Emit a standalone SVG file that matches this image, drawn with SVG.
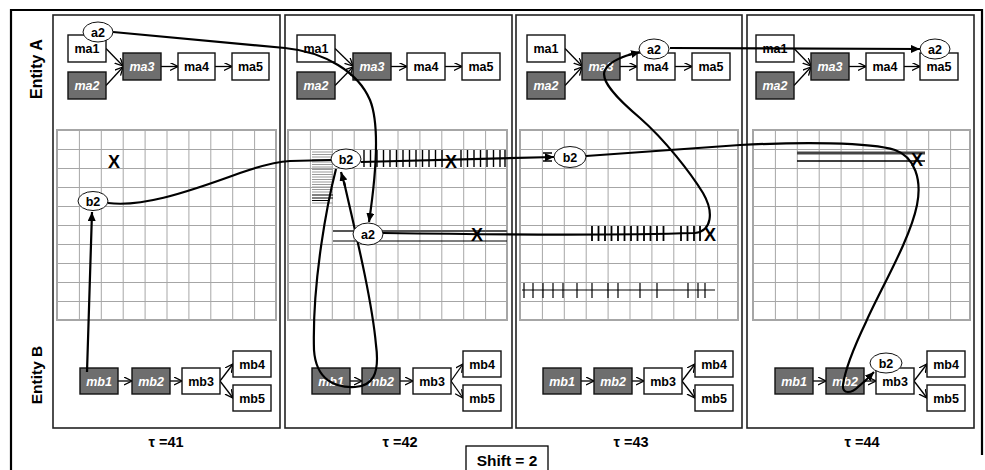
<svg xmlns="http://www.w3.org/2000/svg" width="985" height="470" viewBox="0 0 985 470">
<style>
text{font-family:"Liberation Sans",Arial,sans-serif;font-weight:bold}
.panel{fill:#fff;stroke:#222;stroke-width:1.6}
.nw{fill:#fff;stroke:#111;stroke-width:1.4}
.ng{fill:#6e6e6e;stroke:#111;stroke-width:1.4}
.tw{font-size:12.5px;fill:#000;text-anchor:middle}
.tg{font-size:12.5px;fill:#fff;font-style:italic;text-anchor:middle}
.ell{fill:#fff;stroke:#111;stroke-width:1}
.te{font-size:12.5px;fill:#000;text-anchor:middle}
.na{fill:none;stroke:#000;stroke-width:1.3;marker-end:url(#chev)}
.con{fill:none;stroke:#000;stroke-width:2.2}
.conA{fill:none;stroke:#000;stroke-width:2.2;marker-end:url(#tri)}
.x{font-size:18px;fill:#000;text-anchor:middle}
.tau{font-size:14.5px;fill:#000;text-anchor:middle}
.tick{stroke:#000;stroke-width:1.4}
</style>
<defs>
<marker id="chev" markerUnits="userSpaceOnUse" markerWidth="10" markerHeight="10" refX="8" refY="4" orient="auto"><path d="M0,0 L8,4 L0,8" fill="none" stroke="#000" stroke-width="1.3"/></marker>
<marker id="tri" markerUnits="userSpaceOnUse" markerWidth="10" markerHeight="10" refX="9" refY="4" orient="auto"><path d="M0,0 L9,4 L0,8 z" fill="#000"/></marker>
<pattern id="grid" patternUnits="userSpaceOnUse" width="21.9" height="19"><path d="M21.9,0 L0,0 L0,19" fill="none" stroke="#a6a6a6" stroke-width="2"/></pattern>
</defs>
<rect width="985" height="470" fill="#fff"/>
<!-- outer frame -->
<path d="M11,470 L11,10 L982,10 L982,455" fill="none" stroke="#000" stroke-width="2.2"/>
<text transform="translate(38,69) rotate(-90)" font-size="16" text-anchor="middle" dominant-baseline="middle">Entity A</text>
<text transform="translate(38,375) rotate(-90)" font-size="15.5" text-anchor="middle" dominant-baseline="middle">Entity B</text>

<!-- panels -->
<g id="panels">
<rect class="panel" x="53" y="15" width="227" height="413"/>
<rect class="panel" x="285" y="15" width="227" height="413"/>
<rect class="panel" x="516" y="15" width="226" height="413"/>
<rect class="panel" x="747" y="15" width="227" height="413"/>
</g>
<!-- grids -->
<g id="grids">
<g transform="translate(57,130)"><rect width="219" height="190" fill="url(#grid)" stroke="#a6a6a6" stroke-width="2"/></g>
<g transform="translate(288,130)"><rect width="219" height="190" fill="url(#grid)" stroke="#a6a6a6" stroke-width="2"/></g>
<g transform="translate(520,130)"><rect width="218" height="190" fill="url(#grid)" stroke="#a6a6a6" stroke-width="2"/></g>
<g transform="translate(753,130)"><rect width="217" height="190" fill="url(#grid)" stroke="#a6a6a6" stroke-width="2"/></g>
</g>

<!-- hatch marks -->
<g id="hatches">
<path d="M312,152H333M312,154.5H333M312,157H333M312,159.5H333M312,162H333M312,164.5H333M312,167H333M312,169.5H333M312,172H333M312,174.5H333M312,177H333M312,179.5H333M312,182H333M312,184.5H333M312,187H333M312,189.5H333M312,192H333M312,203H333" stroke="#999" stroke-width="1"/>
<path d="M312,195H333M312,198H333M312,200.5H330" stroke="#000" stroke-width="1.2"/>
<path class="tick" d="M364,150V167M370.5,150V167M377,150V167M383.5,150V167M390,150V167M396.5,150V167M403,150V167M409.5,150V167M416,150V167M422.5,150V167M429,150V167M435.5,150V167M442,150V167M461,150V167M467.5,150V167M474,150V167M480.5,150V167M487,150V167M493.5,150V167M500,150V167M505,150V167"/>
<path d="M333,231H507" stroke="#555" stroke-width="2"/>
<path d="M333,241H507" stroke="#000" stroke-width="1.2"/>
<path d="M592,226V241M598.5,226V241M605,226V241M611.5,226V241M618,226V241M624.5,226V241M631,226V241M637.5,226V241M644,226V241M650.5,226V241M657,226V241M663.5,226V241M681,226V241M687.5,226V241M694,226V241M700,226V241" stroke="#000" stroke-width="1.8"/>
<path d="M522,290H715" stroke="#000" stroke-width="1"/>
<path d="M524,283V298M533,283V298M543,283V298M553,283V298M563,283V298M577,283V298M592,283V298M608,283V298M618,283V298M640,283V298M657,283V298M688,283V298M698,283V298M705,283V298" stroke="#000" stroke-width="1.2"/>
<path d="M543,153H552M543,161H552" stroke="#000" stroke-width="1.5"/>
<path d="M797,153H925" stroke="#444" stroke-width="3"/>
<path d="M797,161H925" stroke="#000" stroke-width="1.3"/>
</g>

<!-- node arrows -->
<g id="node-arrows">
<path class="na" d="M106,48.5 L123,66"/><path class="na" d="M106,85.5 L123,67"/><path class="na" d="M161,66.5 L178,66.5"/><path class="na" d="M215,66.5 L232,66.5"/>
<path class="na" d="M335,48.5 L353,66"/><path class="na" d="M335,85.5 L353,67"/><path class="na" d="M391,66.5 L407,66.5"/><path class="na" d="M445,66.5 L462,66.5"/>
<path class="na" d="M565,48.5 L582,66"/><path class="na" d="M565,85.5 L582,67"/><path class="na" d="M620,66.5 L637,66.5"/><path class="na" d="M675,66.5 L692,66.5"/>
<path class="na" d="M794,48.5 L811,66"/><path class="na" d="M794,85.5 L811,67"/><path class="na" d="M849,66.5 L866,66.5"/><path class="na" d="M904,66.5 L920,66.5"/>
<path class="na" d="M118,381 L132,381"/><path class="na" d="M170,381 L182,381"/><path class="na" d="M220,381 L233,364"/><path class="na" d="M220,381 L233,398"/>
<path class="na" d="M350,381 L362,381"/><path class="na" d="M400,381 L413,381"/><path class="na" d="M451,381 L463,364"/><path class="na" d="M451,381 L463,398"/>
<path class="na" d="M581,381 L594,381"/><path class="na" d="M632,381 L644,381"/><path class="na" d="M682,381 L695,364"/><path class="na" d="M682,381 L695,398"/>
<path class="na" d="M813,381 L826,381"/><path class="na" d="M864,381 L876,381"/><path class="na" d="M914,381 L927,364"/><path class="na" d="M914,381 L927,398"/>
</g>

<!-- nodes panel 1 -->
<g id="p1-ma1"><rect class="nw" x="68" y="35" width="38" height="27"/><text class="tw" x="87" y="53">ma1</text></g>
<g id="p1-ma2"><rect class="ng" x="68" y="72" width="38" height="27"/><text class="tg" x="87" y="90">ma2</text></g>
<g id="p1-ma3"><rect class="ng" x="123" y="53" width="38" height="27"/><text class="tg" x="142" y="71">ma3</text></g>
<g id="p1-ma4"><rect class="nw" x="178" y="53" width="37" height="27"/><text class="tw" x="196.5" y="71">ma4</text></g>
<g id="p1-ma5"><rect class="nw" x="232" y="53" width="37" height="27"/><text class="tw" x="250.5" y="71">ma5</text></g>
<g id="p1-mb1"><rect class="ng" x="80" y="368" width="38" height="26"/><text class="tg" x="99" y="385.5">mb1</text></g>
<g id="p1-mb2"><rect class="ng" x="132" y="368" width="38" height="26"/><text class="tg" x="151" y="385.5">mb2</text></g>
<g id="p1-mb3"><rect class="nw" x="182" y="368" width="38" height="26"/><text class="tw" x="201" y="385.5">mb3</text></g>
<g id="p1-mb4"><rect class="nw" x="233" y="351" width="38" height="26"/><text class="tw" x="252" y="368.5">mb4</text></g>
<g id="p1-mb5"><rect class="nw" x="233" y="385" width="38" height="26"/><text class="tw" x="252" y="402.5">mb5</text></g>
<!-- nodes panel 2 -->
<g id="p2-ma1"><rect class="nw" x="297" y="35" width="38" height="27"/><text class="tw" x="316" y="53">ma1</text></g>
<g id="p2-ma2"><rect class="ng" x="297" y="72" width="38" height="27"/><text class="tg" x="316" y="90">ma2</text></g>
<g id="p2-ma3"><rect class="ng" x="353" y="53" width="38" height="27"/><text class="tg" x="372" y="71">ma3</text></g>
<g id="p2-ma4"><rect class="nw" x="407" y="53" width="38" height="27"/><text class="tw" x="426" y="71">ma4</text></g>
<g id="p2-ma5"><rect class="nw" x="462" y="53" width="38" height="27"/><text class="tw" x="481" y="71">ma5</text></g>
<g id="p2-mb1"><rect class="ng" x="312" y="368" width="38" height="26"/><text class="tg" x="331" y="385.5">mb1</text></g>
<g id="p2-mb2"><rect class="ng" x="362" y="368" width="38" height="26"/><text class="tg" x="381" y="385.5">mb2</text></g>
<g id="p2-mb3"><rect class="nw" x="413" y="368" width="38" height="26"/><text class="tw" x="432" y="385.5">mb3</text></g>
<g id="p2-mb4"><rect class="nw" x="463" y="351" width="38" height="26"/><text class="tw" x="482" y="368.5">mb4</text></g>
<g id="p2-mb5"><rect class="nw" x="463" y="385" width="38" height="26"/><text class="tw" x="482" y="402.5">mb5</text></g>
<!-- nodes panel 3 -->
<g id="p3-ma1"><rect class="nw" x="527" y="35" width="38" height="27"/><text class="tw" x="546" y="53">ma1</text></g>
<g id="p3-ma2"><rect class="ng" x="527" y="72" width="38" height="27"/><text class="tg" x="546" y="90">ma2</text></g>
<g id="p3-ma3"><rect class="ng" x="582" y="53" width="38" height="27"/><text class="tg" x="601" y="71">ma3</text></g>
<g id="p3-ma4"><rect class="nw" x="637" y="53" width="38" height="27"/><text class="tw" x="656" y="71">ma4</text></g>
<g id="p3-ma5"><rect class="nw" x="692" y="53" width="38" height="27"/><text class="tw" x="711" y="71">ma5</text></g>
<g id="p3-mb1"><rect class="ng" x="543" y="368" width="38" height="26"/><text class="tg" x="562" y="385.5">mb1</text></g>
<g id="p3-mb2"><rect class="ng" x="594" y="368" width="38" height="26"/><text class="tg" x="613" y="385.5">mb2</text></g>
<g id="p3-mb3"><rect class="nw" x="644" y="368" width="38" height="26"/><text class="tw" x="663" y="385.5">mb3</text></g>
<g id="p3-mb4"><rect class="nw" x="695" y="351" width="38" height="26"/><text class="tw" x="714" y="368.5">mb4</text></g>
<g id="p3-mb5"><rect class="nw" x="695" y="385" width="38" height="26"/><text class="tw" x="714" y="402.5">mb5</text></g>
<!-- nodes panel 4 -->
<g id="p4-ma1"><rect class="nw" x="756" y="35" width="38" height="27"/><text class="tw" x="775" y="53">ma1</text></g>
<g id="p4-ma2"><rect class="ng" x="756" y="72" width="38" height="27"/><text class="tg" x="775" y="90">ma2</text></g>
<g id="p4-ma3"><rect class="ng" x="811" y="53" width="38" height="27"/><text class="tg" x="830" y="71">ma3</text></g>
<g id="p4-ma4"><rect class="nw" x="866" y="53" width="38" height="27"/><text class="tw" x="885" y="71">ma4</text></g>
<g id="p4-ma5"><rect class="nw" x="920" y="53" width="38" height="27"/><text class="tw" x="939" y="71">ma5</text></g>
<g id="p4-mb1"><rect class="ng" x="775" y="368" width="38" height="26"/><text class="tg" x="794" y="385.5">mb1</text></g>
<g id="p4-mb2"><rect class="ng" x="826" y="368" width="38" height="26"/><text class="tg" x="845" y="385.5">mb2</text></g>
<g id="p4-mb3"><rect class="nw" x="876" y="368" width="38" height="26"/><text class="tw" x="895" y="385.5">mb3</text></g>
<g id="p4-mb4"><rect class="nw" x="927" y="351" width="38" height="26"/><text class="tw" x="946" y="368.5">mb4</text></g>
<g id="p4-mb5"><rect class="nw" x="927" y="385" width="38" height="26"/><text class="tw" x="946" y="402.5">mb5</text></g>

<!-- connectors -->
<g id="connectors">
<path class="conA" d="M113,32 L285,48 C325,52 358,72 370,100 C380,125 376,175 369,222"/>
<path class="con" d="M383,233 C450,234 600,236 695,233 C712,231 714,212 703,193 C690,172 665,140 640,118 C615,97 600,80 605,70 C610,60 625,56 632,54"/>
<path class="conA" d="M628,55 L640,52"/>
<path class="conA" d="M670,48 L920,49"/>
<path class="con" d="M108,203 C140,207 180,195 240,173 C260,166 275,162 290,161 L331,160"/>
<path class="conA" d="M361,162 L554,157"/>
<path class="con" d="M586,156 L740,145 C800,142 870,142 895,150 C915,157 922,180 917,205 C910,240 880,290 866,322 C855,345 845,370 843,385 C842,395 852,393 858,387 L866,380"/>
<path class="conA" d="M864,382 L874,372"/>
<path class="con" d="M336,169 C328,200 312,280 314,350 C316,380 335,388 355,387 C372,386 380,375 376,345 C372,300 355,230 344,182"/>
<path class="conA" d="M345,186 L341,172"/>
<path class="conA" d="M87,372 L92,212"/>
</g>

<!-- state ellipses -->
<g id="a2-p1"><ellipse class="ell" cx="98" cy="32" rx="15" ry="10"/><text class="te" x="98" y="36.5">a2</text></g>
<g id="a2-p2"><ellipse class="ell" cx="368" cy="234" rx="15" ry="11"/><text class="te" x="368" y="238.5">a2</text></g>
<g id="a2-p3"><ellipse class="ell" cx="654" cy="49" rx="15" ry="10"/><text class="te" x="654" y="53.5">a2</text></g>
<g id="a2-p4"><ellipse class="ell" cx="935" cy="49" rx="15" ry="10"/><text class="te" x="935" y="53.5">a2</text></g>
<g id="b2-p1"><ellipse class="ell" cx="93" cy="201" rx="15" ry="9.5"/><text class="te" x="93" y="205.5">b2</text></g>
<g id="b2-p2"><ellipse class="ell" cx="346" cy="159" rx="15" ry="10"/><text class="te" x="346" y="163.5">b2</text></g>
<g id="b2-p3"><ellipse class="ell" cx="570" cy="157" rx="16" ry="10.5"/><text class="te" x="570" y="161.5">b2</text></g>
<g id="b2-p4"><ellipse class="ell" cx="886" cy="363" rx="16" ry="10"/><text class="te" x="886" y="367.5">b2</text></g>

<!-- X marks -->
<g id="marks">
<text class="x" x="114" y="168">X</text>
<text class="x" x="451" y="168">X</text>
<text class="x" x="477" y="241">X</text>
<text class="x" x="710" y="241">X</text>
<text class="x" x="917" y="166">X</text>
</g>

<!-- labels -->
<text class="tau" x="166" y="447">τ =41</text>
<text class="tau" x="400" y="447">τ =42</text>
<text class="tau" x="631" y="447">τ =43</text>
<text class="tau" x="862" y="447">τ =44</text>
<g id="shift"><rect x="466" y="446" width="82" height="30" fill="#fff" stroke="#000" stroke-width="1.3"/><text x="507" y="466" font-size="15.5" text-anchor="middle">Shift = 2</text></g>
</svg>
